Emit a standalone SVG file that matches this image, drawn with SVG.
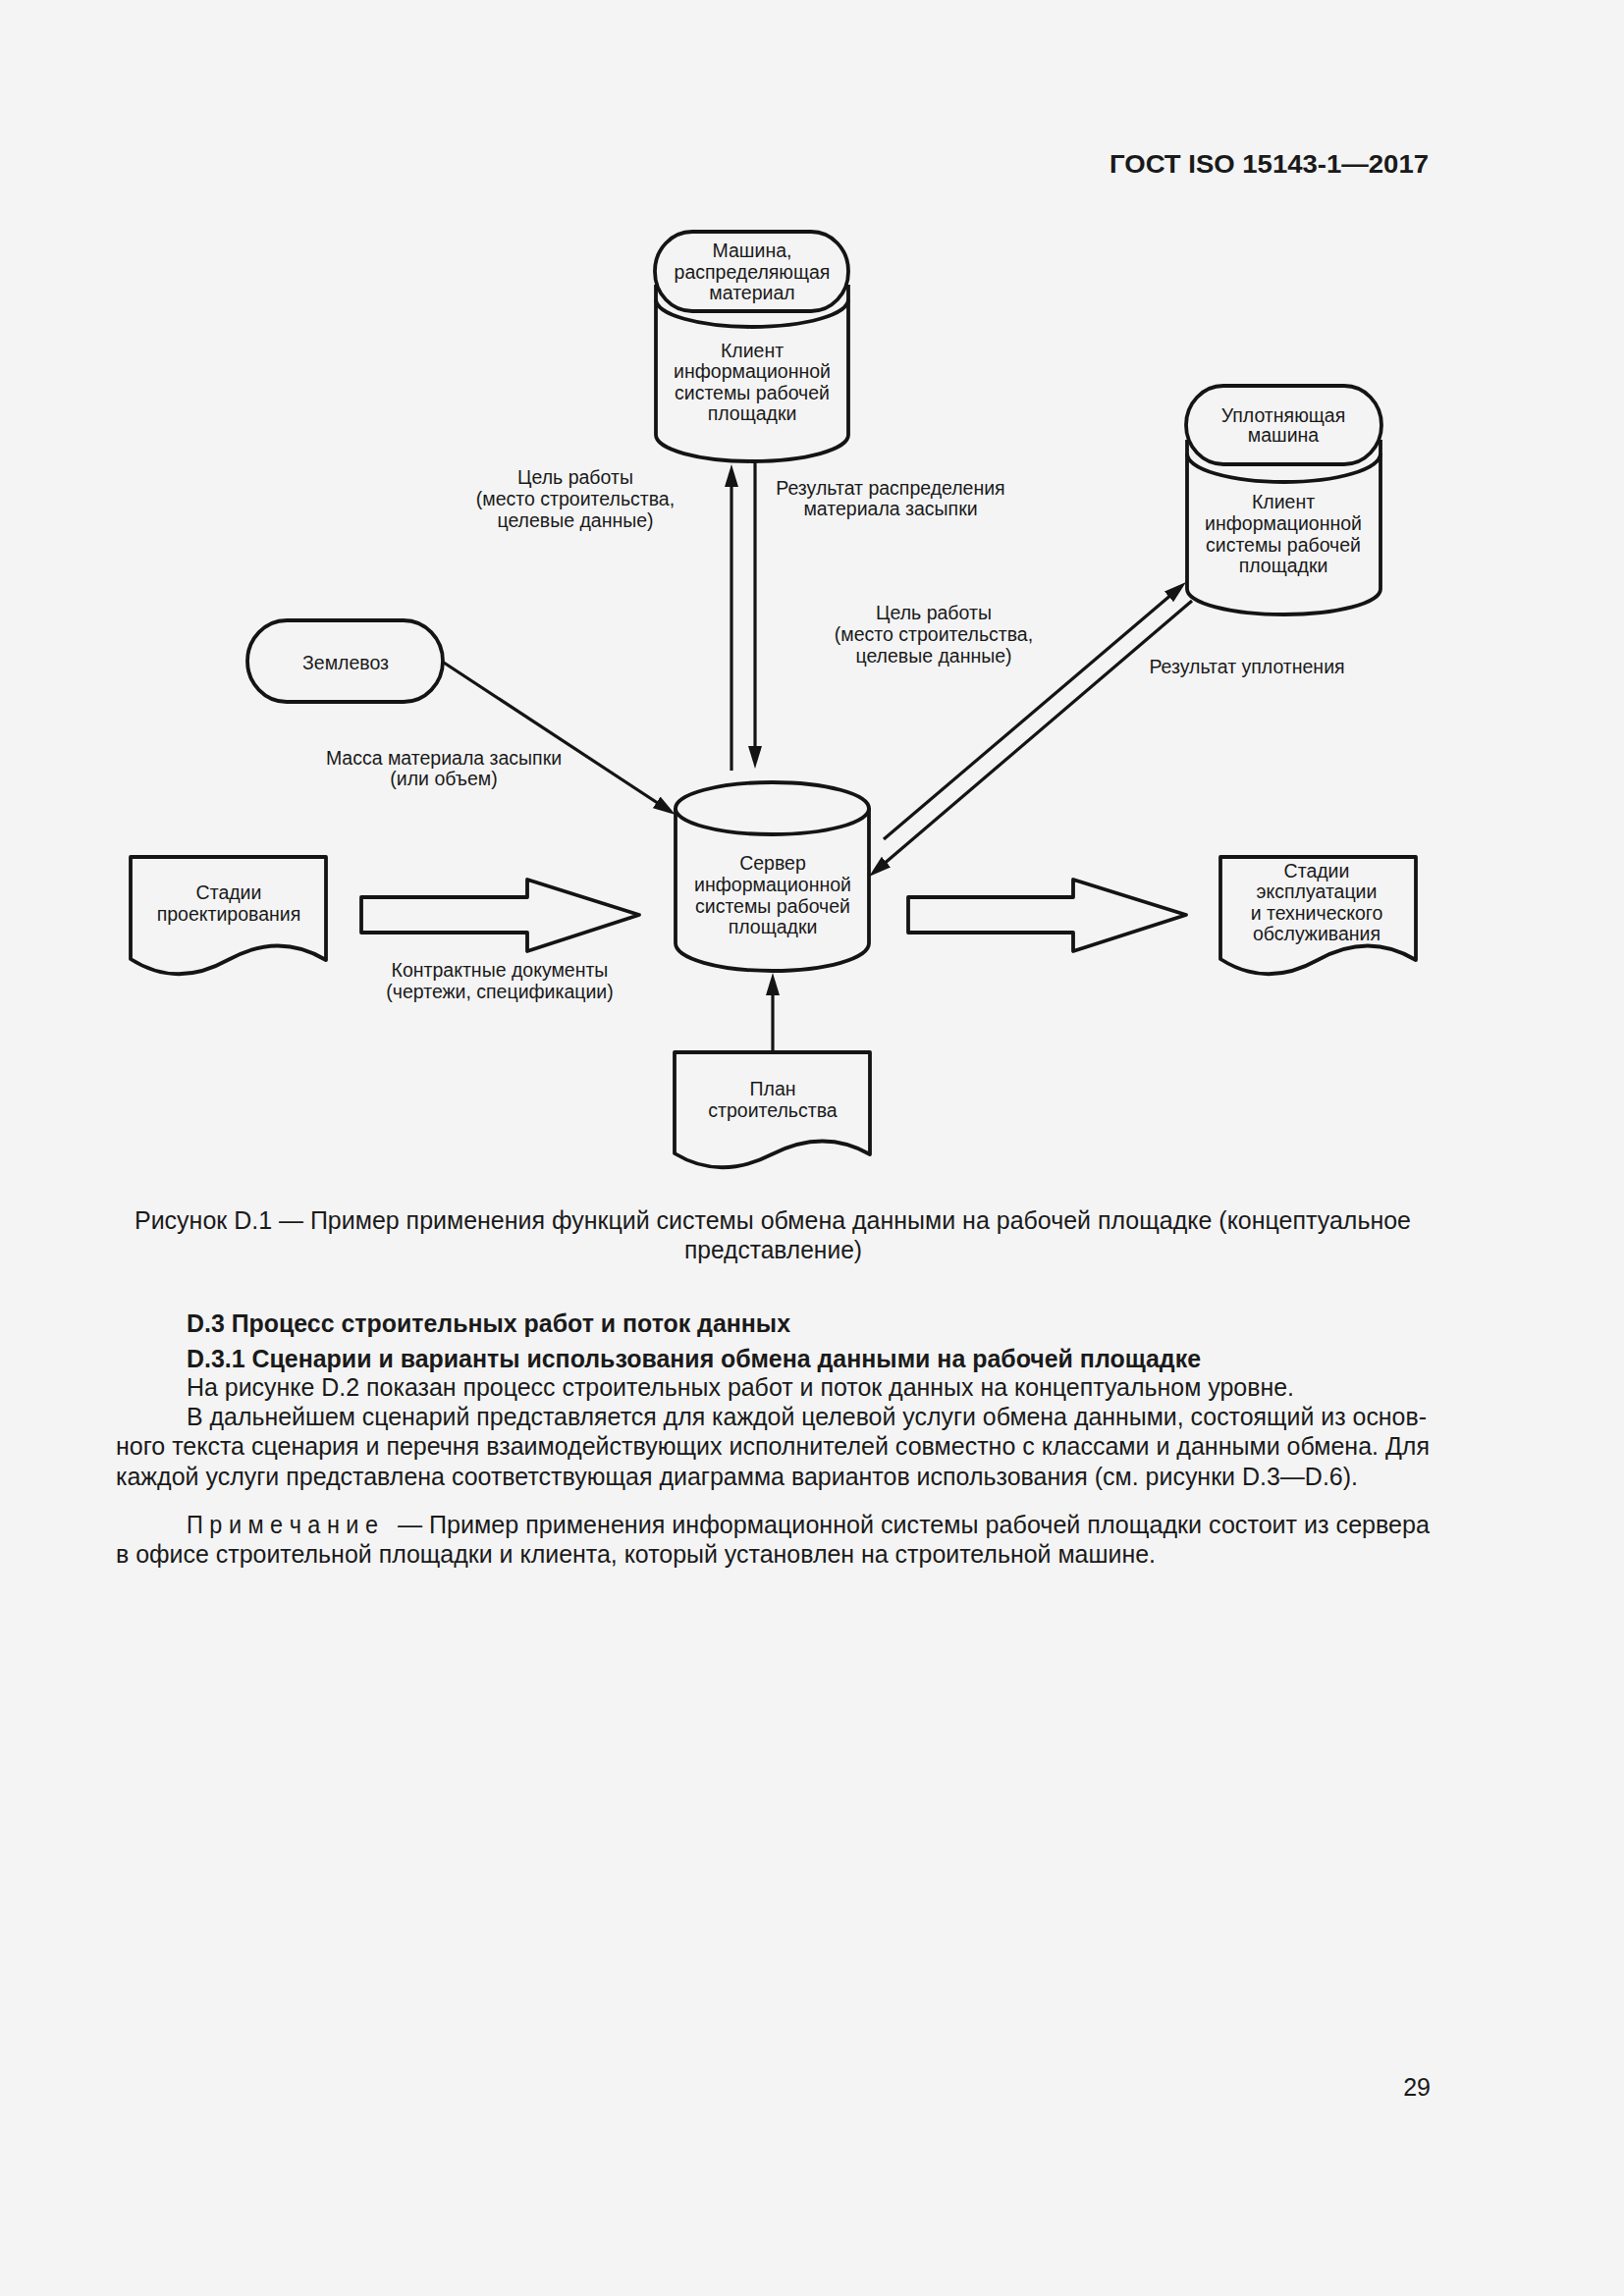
<svg xmlns="http://www.w3.org/2000/svg" width="1654" height="2339" viewBox="0 0 1654 2339">
<style>
.bg{fill:#f4f4f4}
.node{fill:#f4f4f4;stroke:#141414;stroke-width:3.8;stroke-linejoin:round}
.ln{fill:none;stroke:#141414;stroke-width:3.8}
.con{fill:none;stroke:#141414;stroke-width:3.2}
.lbl{font-family:"Liberation Sans",Arial,sans-serif;font-size:19.5px;fill:#1a1a1a;text-anchor:middle}
.body{font-family:"Liberation Sans",Arial,sans-serif;font-size:25px;fill:#1a1a1a}
.bold{font-weight:bold}
</style>
<defs>
<marker id="ah" viewBox="0 0 23 14" refX="13" refY="7" markerWidth="23" markerHeight="14" markerUnits="userSpaceOnUse" orient="auto">
<path d="M0,0 L23,7 L0,14 z" fill="#141414"/>
</marker>
</defs>
<rect class="bg" x="0" y="0" width="1654" height="2339"/>

<text class="body bold" x="1130" y="176" textLength="325" lengthAdjust="spacingAndGlyphs" style="font-size:26px">ГОСТ ISO 15143-1—2017</text>

<g id="connectors">
<line class="con" x1="745" y1="785" x2="745" y2="483" marker-end="url(#ah)"/>
<line class="con" x1="769" y1="470" x2="769" y2="773" marker-end="url(#ah)"/>
<line class="con" x1="452" y1="675" x2="679.6" y2="824.5" marker-end="url(#ah)"/>
<line class="con" x1="900" y1="855" x2="1200.4" y2="599.5" marker-end="url(#ah)"/>
<line class="con" x1="1214" y1="612" x2="892.6" y2="886.5" marker-end="url(#ah)"/>
<line class="con" x1="787" y1="1072" x2="787" y2="1001" marker-end="url(#ah)"/>
<polygon class="node" points="368,914 537,914 537,896 651,932 537,969 537,950 368,950"/>
<polygon class="node" points="925,914 1093,914 1093,896 1208,932 1093,969 1093,950 925,950"/>
</g>

<g id="labels">
<text class="lbl" x="586" y="493">Цель работы</text>
<text class="lbl" x="586" y="515">(место строительства,</text>
<text class="lbl" x="586" y="537">целевые данные)</text>
<text class="lbl" x="907" y="504">Результат распределения</text>
<text class="lbl" x="907" y="525">материала засыпки</text>
<text class="lbl" x="452" y="779">Масса материала засыпки</text>
<text class="lbl" x="452" y="800">(или объем)</text>
<text class="lbl" x="951" y="631">Цель работы</text>
<text class="lbl" x="951" y="653">(место строительства,</text>
<text class="lbl" x="951" y="675">целевые данные)</text>
<text class="lbl" x="1270" y="686">Результат уплотнения</text>
<text class="lbl" x="509" y="995">Контрактные документы</text>
<text class="lbl" x="509" y="1017">(чертежи, спецификации)</text>
</g>

<g id="spreader">
<path class="node" d="M668,290 V443 A98,27 0 0 0 864,443 V290"/>
<path class="ln" d="M668,305 A98,28 0 0 0 864,305"/>
<rect class="node" x="667" y="236" width="197" height="81" rx="38" ry="40"/>
<text class="lbl" x="766" y="262">Машина,</text>
<text class="lbl" x="766" y="284">распределяющая</text>
<text class="lbl" x="766" y="305">материал</text>
<text class="lbl" x="766" y="364">Клиент</text>
<text class="lbl" x="766" y="385">информационной</text>
<text class="lbl" x="766" y="407">системы рабочей</text>
<text class="lbl" x="766" y="428">площадки</text>
</g>

<g id="compactor">
<path class="node" d="M1209,448 V600 A98.5,26 0 0 0 1406,600 V448"/>
<path class="ln" d="M1209,462 A98.5,29 0 0 0 1406,462"/>
<rect class="node" x="1208" y="393" width="199" height="80" rx="38" ry="40"/>
<text class="lbl" x="1307" y="430">Уплотняющая</text>
<text class="lbl" x="1307" y="450">машина</text>
<text class="lbl" x="1307" y="518">Клиент</text>
<text class="lbl" x="1307" y="540">информационной</text>
<text class="lbl" x="1307" y="562">системы рабочей</text>
<text class="lbl" x="1307" y="583">площадки</text>
</g>

<g id="server">
<path class="node" d="M688,823 V961 A98.5,28 0 0 0 885,961 V823"/>
<ellipse class="node" cx="786.5" cy="823.5" rx="98.5" ry="26.5"/>
<text class="lbl" x="787" y="886">Сервер</text>
<text class="lbl" x="787" y="908">информационной</text>
<text class="lbl" x="787" y="930">системы рабочей</text>
<text class="lbl" x="787" y="951">площадки</text>
</g>

<g id="truck">
<rect class="node" x="252" y="632" width="199" height="83" rx="40" ry="41.5"/>
<text class="lbl" x="352" y="682">Землевоз</text>
</g>

<g id="design">
<path class="node" d="M133,977 V873 H332 V978 Q284,949 232,978 Q180,1007 133,977 z"/>
<text class="lbl" x="233" y="916">Стадии</text>
<text class="lbl" x="233" y="938">проектирования</text>
</g>

<g id="operation">
<path class="node" d="M1243,977 V873 H1442 V978 Q1394,949 1342,978 Q1290,1007 1243,977 z"/>
<text class="lbl" x="1341" y="894">Стадии</text>
<text class="lbl" x="1341" y="915">эксплуатации</text>
<text class="lbl" x="1341" y="937">и технического</text>
<text class="lbl" x="1341" y="958">обслуживания</text>
</g>

<g id="plan">
<path class="node" d="M687,1175 V1072 H886 V1176 Q839,1149 786,1176 Q733,1203 687,1175 z"/>
<text class="lbl" x="787" y="1116">План</text>
<text class="lbl" x="787" y="1138">строительства</text>
</g>

<g id="text">
<text class="body" x="137" y="1252" textLength="1300" lengthAdjust="spacingAndGlyphs">Рисунок D.1 — Пример применения функций системы обмена данными на рабочей площадке (концептуальное</text>
<text class="body" x="697" y="1282" textLength="181" lengthAdjust="spacingAndGlyphs">представление)</text>
<text class="body bold" x="190" y="1357" textLength="615" lengthAdjust="spacingAndGlyphs">D.3 Процесс строительных работ и поток данных</text>
<text class="body bold" x="190" y="1393" textLength="1033" lengthAdjust="spacingAndGlyphs">D.3.1 Сценарии и варианты использования обмена данными на рабочей площадке</text>
<text class="body" x="190" y="1422" textLength="1128" lengthAdjust="spacingAndGlyphs">На рисунке D.2 показан процесс строительных работ и поток данных на концептуальном уровне.</text>
<text class="body" x="190" y="1452" textLength="1263" lengthAdjust="spacingAndGlyphs">В дальнейшем сценарий представляется для каждой целевой услуги обмена данными, состоящий из основ-</text>
<text class="body" x="118" y="1482" textLength="1338" lengthAdjust="spacingAndGlyphs">ного текста сценария и перечня взаимодействующих исполнителей совместно с классами и данными обмена. Для</text>
<text class="body" x="118" y="1513" textLength="1265" lengthAdjust="spacingAndGlyphs">каждой услуги представлена соответствующая диаграмма вариантов использования (см. рисунки D.3—D.6).</text>
<text class="body" x="190" y="1562" textLength="195" lengthAdjust="spacingAndGlyphs">П р и м е ч а н и е</text>
<text class="body" x="405" y="1562" textLength="1051" lengthAdjust="spacingAndGlyphs">— Пример применения информационной системы рабочей площадки состоит из сервера</text>
<text class="body" x="118" y="1592" textLength="1059" lengthAdjust="spacingAndGlyphs">в офисе строительной площадки и клиента, который установлен на строительной машине.</text>
<text class="body" x="1457" y="2135" text-anchor="end">29</text>
</g>
</svg>
